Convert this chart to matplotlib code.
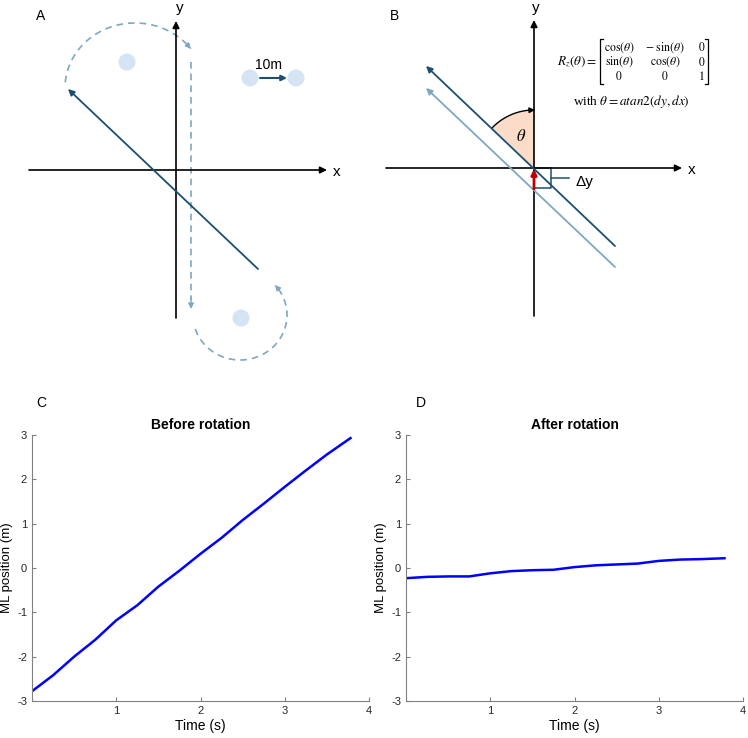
import numpy as np
import matplotlib
matplotlib.use('Agg')
import matplotlib.pyplot as plt
from matplotlib.patches import Circle, Polygon

plt.rcParams['font.family'] = ['Liberation Sans', 'DejaVu Sans']
plt.rcParams['mathtext.fontset'] = 'stix'
plt.rcParams['axes.unicode_minus'] = False

# ML position traces
time_s = [0, 0.25, 0.5, 0.75, 1.0, 1.25, 1.5, 1.75, 2.0, 2.25, 2.5, 2.75, 3.0, 3.25, 3.5, 3.78]
ml_before = [-2.78, -2.42, -2.0, -1.62, -1.18, -0.84, -0.42, -0.06, 0.32, 0.68, 1.08, 1.45, 1.83, 2.2, 2.56, 2.93]
ml_after = [-0.23, -0.20, -0.19, -0.19, -0.12, -0.07, -0.05, -0.04, 0.02, 0.06, 0.08, 0.10, 0.16, 0.19, 0.20, 0.22]
x_ticks = [1, 2, 3, 4]
y_ticks = [-3, -2, -1, 0, 1, 2, 3]

dark = '#1b4f72'
light = '#7ea7c2'
dot = '#d4e4f4'

fig = plt.figure(figsize=(7.48, 7.38), dpi=100)

# overlay axes in pixel units for the two sketches
ax0 = fig.add_axes([0, 0, 1, 1])
ax0.set_xlim(0, 748)
ax0.set_ylim(738, 0)
ax0.axis('off')


def arrow(x0, y0, x1, y1, color='black', lw=1.2, ms=10):
    ax0.annotate('', xy=(x1, y1), xytext=(x0, y0),
                 arrowprops=dict(arrowstyle='-|>', color=color, lw=lw,
                                 mutation_scale=ms, shrinkA=0, shrinkB=0))


def ellipse_arc(cx, cy, rx, ry, t0, t1):
    t = np.radians(np.linspace(t0, t1, 120))
    return cx + rx * np.cos(t), cy - ry * np.sin(t)


dash = (0, (4, 3))

# ---- panel A ----
ax0.text(41, 16, 'A', fontsize=10, ha='center', va='center')
arrow(29, 170, 327, 170)
arrow(176, 318, 176, 21)
ax0.text(337, 172, 'x', fontsize=11, ha='center', va='center')
ax0.text(180, 1, 'y', fontsize=11, ha='center', va='top')

for cx, cy in [(127, 62), (250, 78), (296, 78), (241, 318)]:
    ax0.add_patch(Circle((cx, cy), 8.5, color=dot, ec='none'))
ax0.text(269, 65, '10m', fontsize=10, ha='center', va='center')
arrow(260, 78, 287, 78, color=dark, lw=1.5, ms=8)

xs, ys = ellipse_arc(135, 88, 70, 65, 175, 37)
ax0.plot(xs, ys, color=light, lw=1.2, ls=dash)
arrow(xs[-4], ys[-4], xs[-1], ys[-1], color=light, lw=1.0, ms=8)

ax0.plot([191, 191], [62, 300], color=light, lw=1.2, ls=dash)
arrow(191, 298, 191, 309, color=light, lw=1.0, ms=8)

xs, ys = ellipse_arc(240, 315, 47, 45, 198, 402)
ax0.plot(xs, ys, color=light, lw=1.2, ls=dash)
arrow(xs[-4], ys[-4], xs[-1], ys[-1], color=light, lw=1.0, ms=8)

arrow(258, 269, 68, 89, color=dark, lw=1.3, ms=9)

# ---- panel B ----
ox, oy = 534, 168
ax0.text(395, 16, 'B', fontsize=10, ha='center', va='center')
arrow(386, oy, 682, oy)
arrow(ox, 316, ox, 20)
ax0.text(692, 170, 'x', fontsize=11, ha='center', va='center')
ax0.text(536, 1, 'y', fontsize=11, ha='center', va='top')

# angle wedge
a = np.radians(np.linspace(90, 136.5, 60))
r = 58
wedge = [(ox, oy)] + list(zip(ox + r * np.cos(a), oy - r * np.sin(a)))
ax0.add_patch(Polygon(wedge, closed=True, color='#fbdcc8', ec='none'))
ax0.plot(ox + r * np.cos(a[::-1]), oy - r * np.sin(a[::-1]), color='black', lw=1.0)
arrow(ox + r * np.cos(a[6]), oy - r * np.sin(a[6]), ox + 1, oy - r, color='black', lw=1.0, ms=8)
ax0.text(521, 136, r'$\theta$', fontsize=12, ha='center', va='center')

arrow(615, 267, 426, 88, color=light, lw=1.3, ms=9)
arrow(615, 246, 426, 66, color=dark, lw=1.3, ms=9)

# delta y bracket
ax0.plot([ox, 551, 551, 569], [oy, oy, 178, 178], color=dark, lw=1.1)
ax0.plot([551, 551, ox], [178, 188, 188], color=dark, lw=1.1)
arrow(ox, 189, ox, 169, color='#c00000', lw=2.0, ms=8)
ax0.text(576, 182, 'Δy', fontsize=11, ha='left', va='center')

# rotation matrix
ax0.text(597, 62, r'$R_z(\theta) = $', fontsize=9.5, ha='right', va='center')
rows = [[r'$\cos(\theta)$', r'$-\ \sin(\theta)$', r'$0$'],
        [r'$\sin(\theta)$', r'$\cos(\theta)$', r'$0$'],
        [r'$0$', r'$0$', r'$1$']]
for i, row in enumerate(rows):
    yy = 47.5 + 14.5 * i
    ax0.text(619, yy, row[0], fontsize=8.5, ha='center', va='center')
    ax0.text(665, yy, row[1], fontsize=8.5, ha='center', va='center')
    ax0.text(705, yy, row[2], fontsize=8.5, ha='right', va='center')
ax0.plot([603, 600, 600, 603], [39, 39, 84, 84], color='black', lw=0.9)
ax0.plot([705, 708, 708, 705], [39, 39, 84, 84], color='black', lw=0.9)
ax0.text(631, 102, r'with $\theta = atan2(dy, dx)$', fontsize=9.5,
         ha='center', va='center', family=['Liberation Serif', 'DejaVu Serif'])


# ---- panels C and D ----
def trace_panel(rect, y, title, letter, lx):
    ax = fig.add_axes(rect)
    ax.plot(time_s, y, color='#0000ff', lw=1.8)
    ax.set_xlim(0, 4)
    ax.set_ylim(-3, 3)
    ax.set_xticks(x_ticks)
    ax.set_yticks(y_ticks)
    for s in ['top', 'right']:
        ax.spines[s].set_visible(False)
    for s in ['left', 'bottom']:
        ax.spines[s].set_color('#808080')
    ax.tick_params(direction='in', length=3, colors='#262626', labelsize=8)
    ax.tick_params(axis='both', color='#808080')
    ax.set_xlabel('Time (s)', fontsize=10, labelpad=2)
    ax.set_ylabel('ML position (m)', fontsize=9.5, labelpad=0)
    ax.yaxis.set_label_coords(-0.055, 0.5)
    ax.set_title(title, fontsize=10, fontweight='bold', pad=4)
    fig.text(lx / 748, 1 - 403 / 738, letter, fontsize=10, ha='center', va='center')
    return ax


trace_panel([32 / 748, 37 / 738, 337 / 748, 266 / 738], ml_before, 'Before rotation', 'C', 41)
trace_panel([406 / 748, 37 / 738, 337 / 748, 266 / 738], ml_after, 'After rotation', 'D', 421)

fig.savefig('out.png', dpi=100)
